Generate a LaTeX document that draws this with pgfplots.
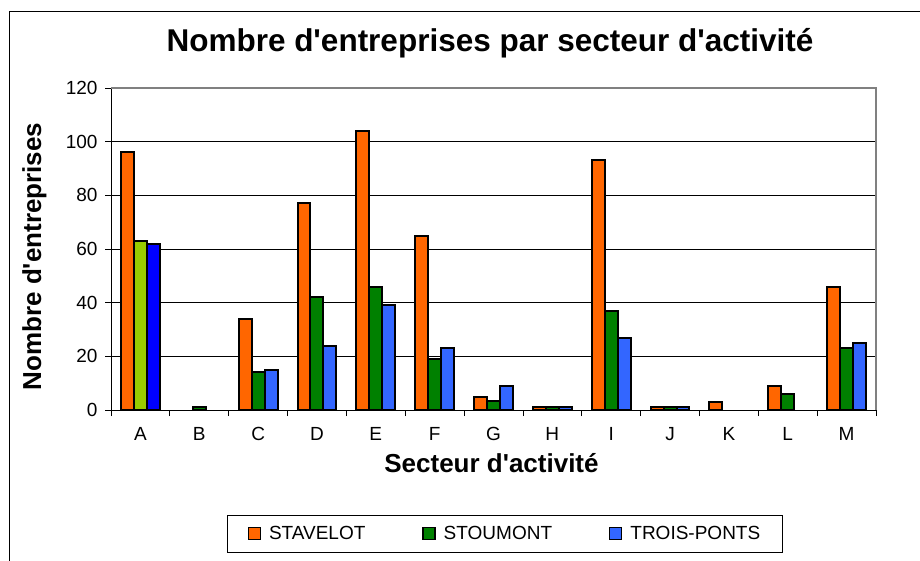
\documentclass[border=0pt]{standalone}
\usepackage{pgfplots}
\pgfplotsset{compat=1.18}
\usepackage{fontspec}
\setmainfont{Liberation Sans}[Ligatures=TeXOff]
\definecolor{cOrange}{HTML}{FF6600}
\definecolor{cGreen}{HTML}{008000}
\definecolor{cBlue}{HTML}{3366FF}
\definecolor{cLGreen}{HTML}{99CC00}
\definecolor{cDBlue}{HTML}{0000FF}
\begin{document}
\begin{tikzpicture}[x=1pt,y=1pt]
\useasboundingbox (0,0) rectangle (920,560);
\draw[black, line width=1pt] (9.5,548) rectangle (940,-20);
\node[anchor=base, font=\bfseries\fontsize{31.5}{36}\selectfont] at (490,508) {Nombre d'entreprises par secteur d'activité};
\node[anchor=base, rotate=90, font=\bfseries\fontsize{26}{30}\selectfont] at (41,303.5) {Nombre d'entreprises};
\node[anchor=base, font=\bfseries\fontsize{26}{30}\selectfont] at (491.5,88) {Secteur d'activité};
\begin{axis}[
  at={(111pt,150pt)}, anchor=south west,
  scale only axis, width=765pt, height=322pt,
  ybar, bar width=0.22,
  xmin=-0.5, xmax=12.5, ymin=0, ymax=120,
  ytick={0,20,...,120},
  xtick={0,...,12},
  xticklabels={A,B,C,D,E,F,G,H,I,J,K,L,M},
  minor xtick={-0.5,0.5,...,12.5},
  major x tick style={draw=none},
  minor tick length=6pt, major tick length=6pt,
  tick align=outside,
  tick style={black, line width=0.8pt},
  axis x line*=bottom, axis y line*=left,
  axis line style={black, line width=1pt},
  ymajorgrids, grid style={black, line width=0.8pt},
  /pgf/number format/assume math mode=true,
  ticklabel style={font=\fontsize{19}{22}\selectfont},
  xticklabel style={yshift=-8pt},
  yticklabel style={xshift=-4pt},
  legend columns=3,
  legend style={at={(0.515,-0.326)}, anchor=north, draw=black, line width=0.8pt,
    font=\fontsize{19}{22}\selectfont, inner xsep=20pt, inner ysep=9pt,
    /tikz/every odd column/.append style={column sep=6pt},
    /tikz/every even column/.append style={column sep=55pt}},
  legend image code/.code={\draw[#1,draw=black,line width=1.3pt] (0pt,-6pt) rectangle (12pt,6pt);},
  every axis plot/.append style={draw=black, line width=2pt},
  clip=false,
]
\addplot[fill=cOrange, draw=black, line width=2pt, bar shift=-0.22] coordinates {(0,96) (2,34) (3,77) (4,104) (5,65) (6,5) (7,1) (8,93) (9,1) (10,3) (11,9) (12,46)};
\addplot[fill=cGreen, draw=black, line width=2pt, bar shift=0] coordinates {(0,63) (1,1) (2,14) (3,42) (4,46) (5,19) (6,3.5) (7,1) (8,37) (9,1) (11,6) (12,23)};
\addplot[fill=cBlue, draw=black, line width=2pt, bar shift=0.22] coordinates {(0,62) (2,15) (3,24) (4,39) (5,23) (6,9) (7,1) (8,27) (9,1) (12,25)};
\addplot[fill=cLGreen, draw=black, line width=2pt, bar shift=0, forget plot] coordinates {(0,63)};
\addplot[fill=cDBlue, draw=black, line width=2pt, bar shift=0.22, forget plot] coordinates {(0,62)};
\legend{STAVELOT,STOUMONT,TROIS-PONTS}
\draw[gray, line width=1.2pt] (rel axis cs:0,1) -- (rel axis cs:1,1) -- (rel axis cs:1,0);
\end{axis}
\end{tikzpicture}
\end{document}
